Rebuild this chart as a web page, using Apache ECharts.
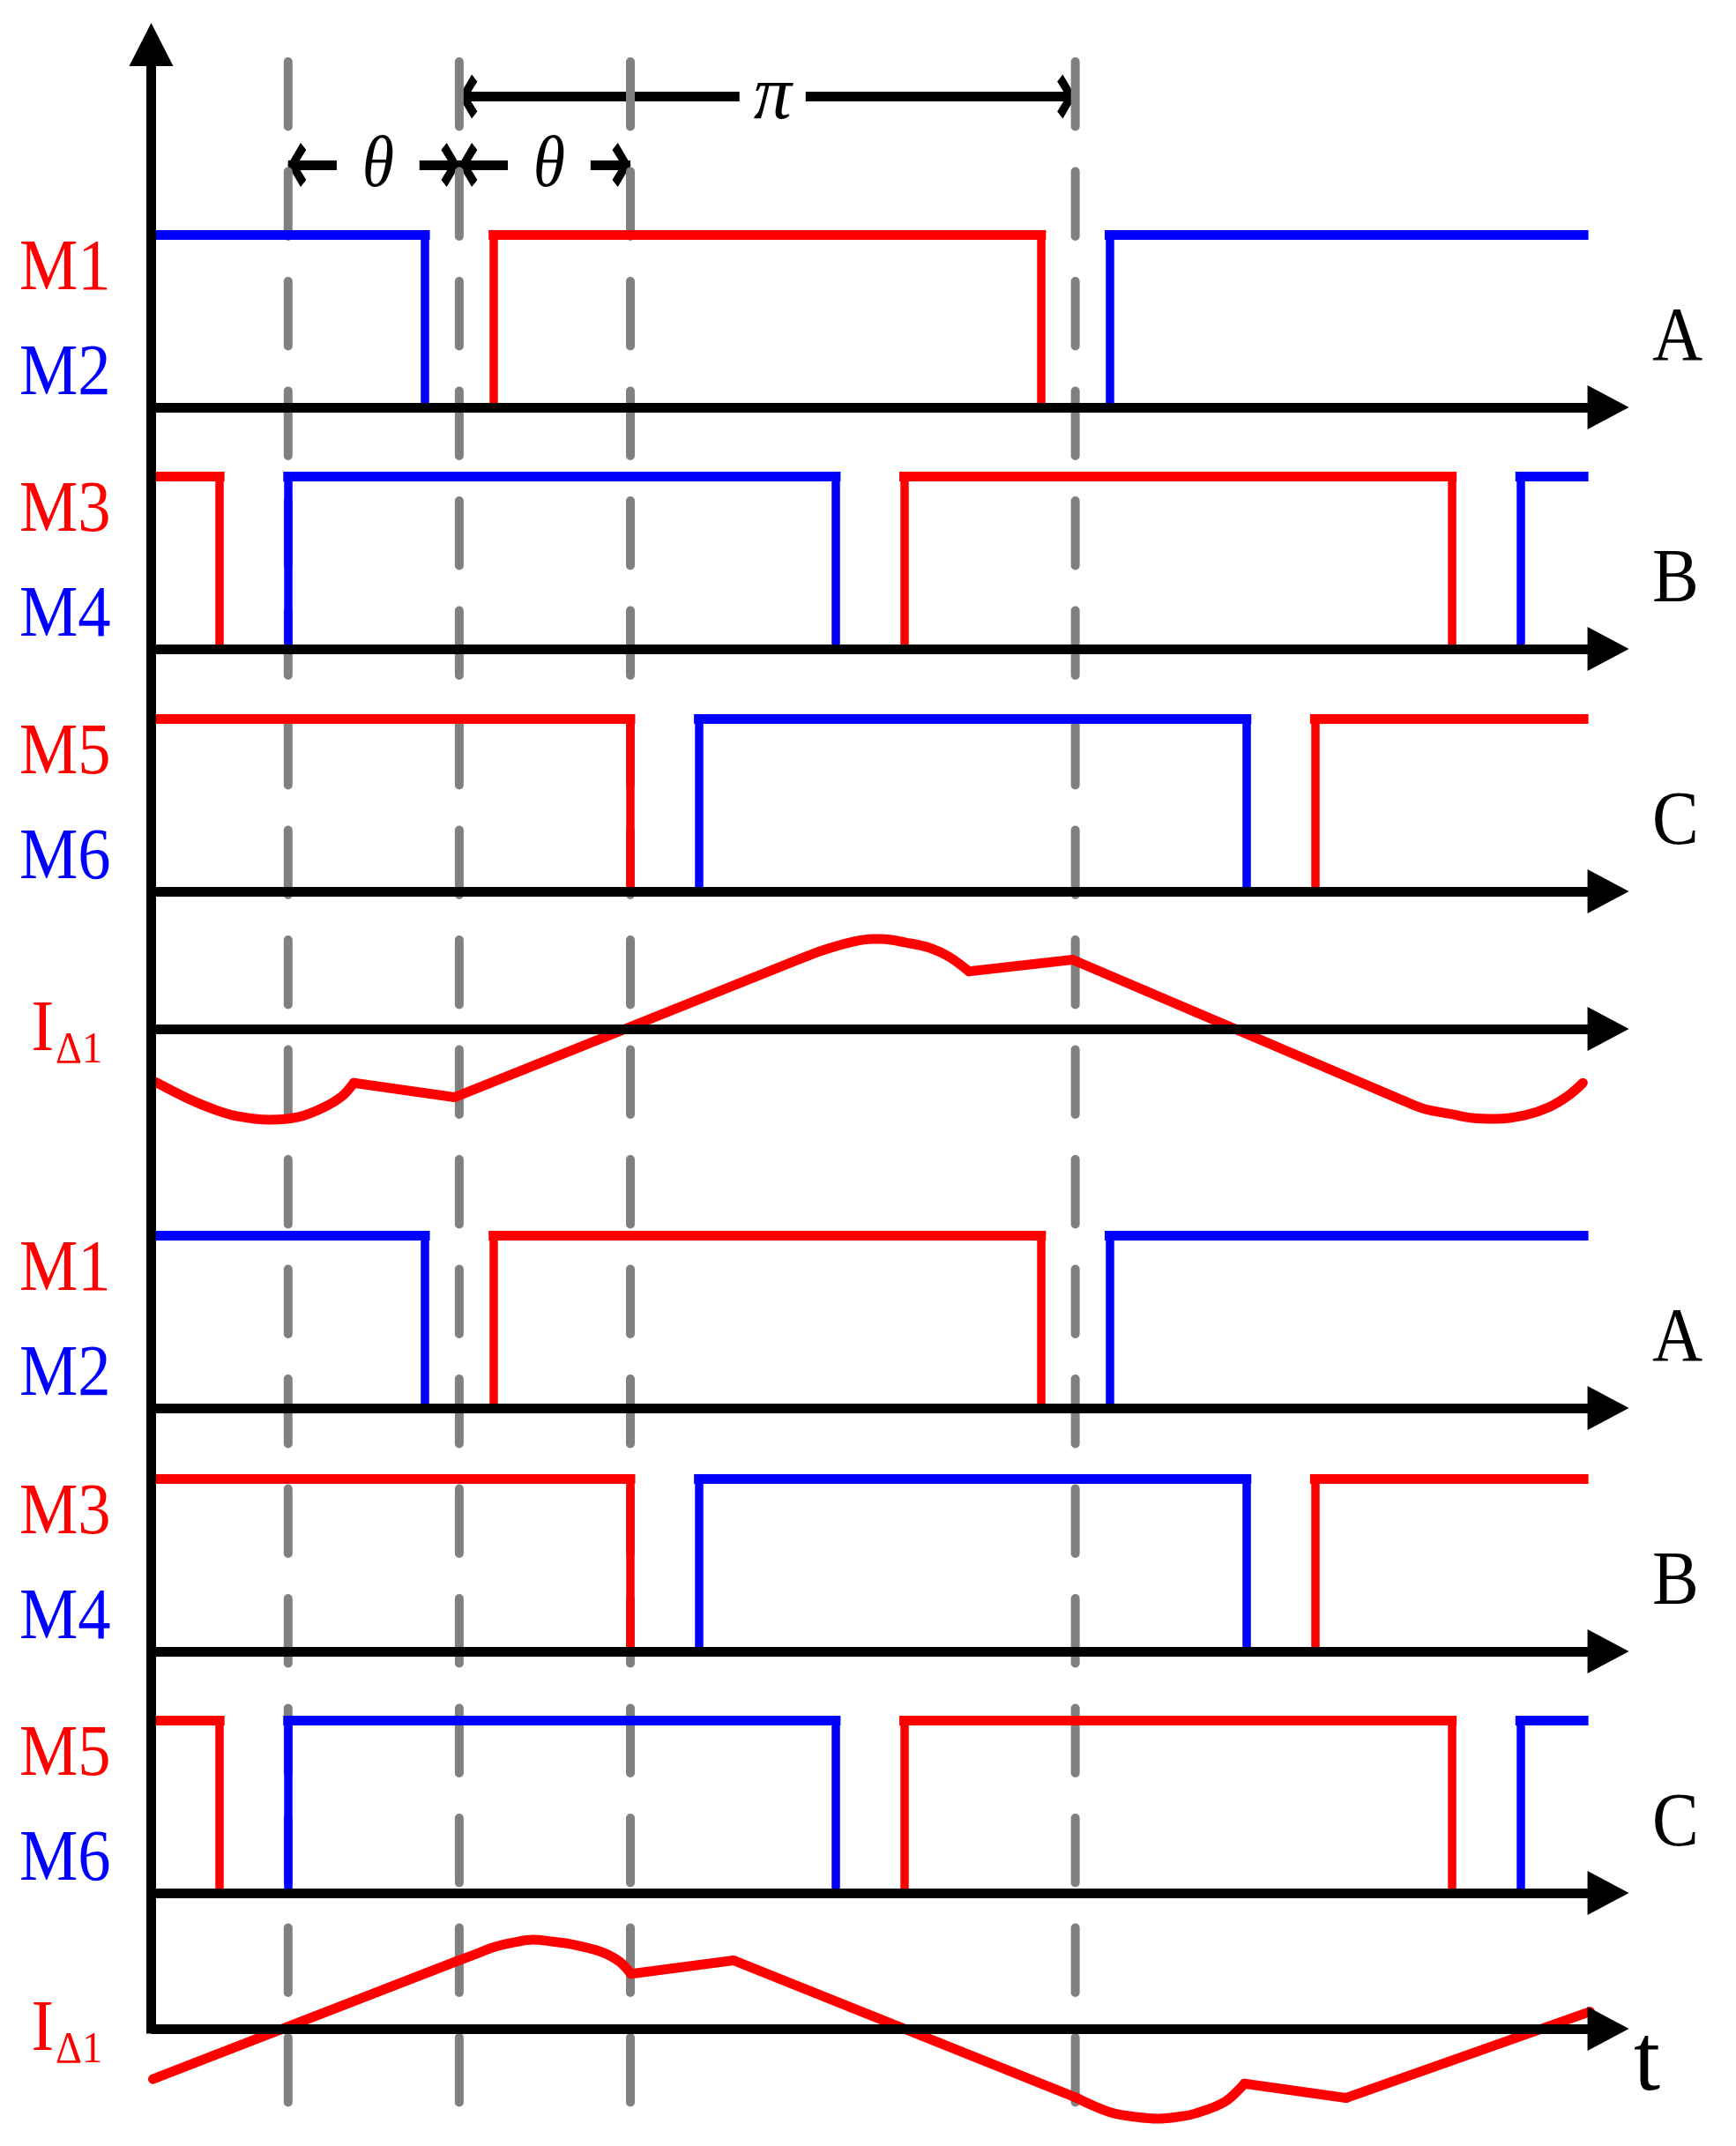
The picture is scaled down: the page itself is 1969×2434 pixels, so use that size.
<!DOCTYPE html>
<html>
<head>
<meta charset="utf-8">
<script src="https://cdn.jsdelivr.net/npm/echarts@6.0.0/dist/echarts.min.js"></script>
<style>
html,body{margin:0;padding:0;background:#ffffff;}
#chart{width:1969px;height:2434px;}
</style>
</head>
<body>
<div id="chart"></div>
<script>
// ================= DATA (time in degrees of one switching period) =================
const tEnd = 418.5;                       // end of the drawn gate signals
const guideAngles = [40, 90, 140, 270];   // dashed guide lines
const piSpan = [90, 270];                 // "π" dimension
const thetaSpans = [[40, 90], [90, 140]]; // "θ" dimensions

// upper group: conduction intervals [start, end]
const g1A_M1 = [[100, 260]];
const g1A_M2 = [[0, 80], [280, tEnd]];
const g1B_M3 = [[0, 20], [220, 380]];
const g1B_M4 = [[40, 200], [400, tEnd]];
const g1C_M5 = [[0, 140], [340, tEnd]];
const g1C_M6 = [[160, 320]];
// upper I_Δ1 current (normalised to peak)
const g1_iDelta1 = [
  [1.2,-0.59],[11,-0.78],[18,-0.89],[25,-0.97],[34.7,-1.01],[43,-0.98],[50,-0.88],[55.7,-0.75],[59.2,-0.60],
  [88.6,-0.76],[189.7,0.78],[196.7,0.88],[204,0.96],[210.7,1.0],[213.5,1.0],[220.5,0.96],[227.6,0.90],
  [233.2,0.80],[238.9,0.64],[269.2,0.77],[366,-0.80],[372,-0.89],[380.2,-0.95],[386,-0.99],[392.9,-1.0],
  [401.4,-0.96],[408.4,-0.87],[414.1,-0.74],[418.3,-0.60]
];
const g1_iCorners = [59.2, 88.6, 189.7, 238.9, 269.2, 366];

// lower group
const g2A_M1 = [[100, 260]];
const g2A_M2 = [[0, 80], [280, tEnd]];
const g2B_M3 = [[0, 140], [340, tEnd]];
const g2B_M4 = [[160, 320]];
const g2C_M5 = [[0, 20], [220, 380]];
const g2C_M6 = [[40, 200], [400, tEnd]];
const g2_iDelta1 = [
  [0.5,-0.56],[89.2,0.75],[94.8,0.83],[100.3,0.91],[105.9,0.96],[111.5,0.99],[117.1,0.97],[122.7,0.94],
  [131.1,0.86],[136.7,0.75],[140.2,0.61],[170.1,0.76],[269.9,-0.76],[275.5,-0.86],[281.2,-0.94],[287.5,-0.98],
  [294,-1.0],[300,-0.98],[305.3,-0.94],[313.8,-0.81],[319.4,-0.61],[349.1,-0.77],[420.4,0.19]
];
const g2_iCorners = [89.2, 140.2, 170.1, 269.9, 319.4, 349.1];

const upperLabels = ['M1', 'M3', 'M5', 'M1', 'M3', 'M5'];
const lowerLabels = ['M2', 'M4', 'M6', 'M2', 'M4', 'M6'];
const legLabels = ['A', 'B', 'C', 'A', 'B', 'C'];

// ================= LAYOUT =================
const W = 1969, H = 2434;
const X0 = 171.5, PX_PER_DEG = 3.882, X_MAX = 425.7;
const GRID_W = X_MAX * PX_PER_DEG;
const SW_H = 196, CUR_AMP = 102;
const RED = '#ff0000', BLUE = '#0000ff', GRAY = '#808080', BLACK = '#000000';
const FONT = '"Liberation Serif", "Times New Roman", serif';
const DASH_TOP = 70, DASH_BOTTOM = 2386, PI_Y = 109.5, THETA_Y = 187;
const SPINE_TOP = 50.5;

const panels = [
  { kind: 'sw', axisY: 462,  red: g1A_M1, blue: g1A_M2 },
  { kind: 'sw', axisY: 736,  red: g1B_M3, blue: g1B_M4 },
  { kind: 'sw', axisY: 1011, red: g1C_M5, blue: g1C_M6 },
  { kind: 'cur', axisY: 1167, data: g1_iDelta1, corners: g1_iCorners },
  { kind: 'sw', axisY: 1597, red: g2A_M1, blue: g2A_M2 },
  { kind: 'sw', axisY: 1873, red: g2B_M3, blue: g2B_M4 },
  { kind: 'sw', axisY: 2147, red: g2C_M5, blue: g2C_M6 },
  { kind: 'cur', axisY: 2301, data: g2_iDelta1, corners: g2_iCorners }
];

const grids = [], xAxes = [], yAxes = [], series = [], graphics = [];

function addGrid(top, height, yMin, yMax, opts) {
  opts = opts || {};
  const idx = grids.length;
  grids.push({ left: X0, top: top, width: GRID_W, height: height, containLabel: false, outerBoundsMode: 'none', show: false });
  xAxes.push({
    type: 'value', gridIndex: idx, min: 0, max: X_MAX, show: !!opts.showX, z: 10,
    axisLine: { show: true, onZero: true, symbol: ['none', 'triangle'], symbolSize: [50, 47],
      lineStyle: { color: BLACK, width: 11, cap: 'butt' } },
    axisTick: { show: false }, axisLabel: { show: false }, splitLine: { show: false }
  });
  yAxes.push({
    type: 'value', gridIndex: idx, min: yMin, max: yMax, show: !!opts.showY, inverse: !!opts.inverse, z: 10,
    axisLine: { show: true, onZero: false, symbol: ['none', 'triangle'], symbolSize: [50, 49],
      lineStyle: { color: BLACK, width: 11, cap: 'butt' } },
    axisTick: { show: false }, axisLabel: { show: false }, splitLine: { show: false }
  });
  return idx;
}

function addText(str, x, baseline, F, color, o) {
  o = o || {};
  const style = {
    text: str, x: 0, y: 0, fill: color,
    font: (o.italic ? 'italic ' : '') + F + 'px ' + FONT,
    align: o.align || 'left', textAlign: o.align || 'left',
    verticalAlign: 'middle', textVerticalAlign: 'middle'
  };
  if (o.bg) { style.backgroundColor = o.bg; style.padding = o.padding; }
  graphics.push({ type: 'text', x: x, y: baseline - 0.3375 * F, scaleX: o.sx || 1, z: 100, silent: true, style: style });
}

// split a waveform at its sharp corners; curved runs are smoothed, straight runs are not
function splitRuns(data, corners) {
  const runs = [];
  let cur = [];
  data.forEach(function (pt) {
    cur.push(pt);
    if (corners.indexOf(pt[0]) >= 0) { runs.push(cur); cur = [pt]; }
  });
  if (cur.length > 1) runs.push(cur);
  return runs;
}

// spine (vertical axis with arrow)
addGrid(SPINE_TOP, panels[7].axisY + 5.5 - SPINE_TOP, 0, 1, { showY: true });

// panels
let swCount = 0;
panels.forEach(function (p) {
  if (p.kind === 'sw') {
    const g = addGrid(p.axisY - SW_H, SW_H, 0, 1, { showX: true });
    const tops = [], edges = [];
    [[p.red, RED], [p.blue, BLUE]].forEach(function (pair) {
      pair[0].forEach(function (iv) {
        tops.push({ coords: [[iv[0], 1], [iv[1], 1]], lineStyle: { color: pair[1] } });
        if (iv[0] > 0) edges.push({ coords: [[iv[0], 0], [iv[0], 1]], lineStyle: { color: pair[1] } });
        if (iv[1] < tEnd) edges.push({ coords: [[iv[1], 0], [iv[1], 1]], lineStyle: { color: pair[1] } });
      });
    });
    series.push({ type: 'lines', coordinateSystem: 'cartesian2d', xAxisIndex: g, yAxisIndex: g, z: 6, silent: true, clip: false,
      lineStyle: { width: 9.5, cap: 'butt', opacity: 1 }, data: edges });
    series.push({ type: 'lines', coordinateSystem: 'cartesian2d', xAxisIndex: g, yAxisIndex: g, z: 6, silent: true, clip: false,
      lineStyle: { width: 11, cap: 'square', opacity: 1 }, data: tops });
    addText(upperLabels[swCount], 22, p.axisY - 128, 82, RED, { sx: 0.91 });
    addText(lowerLabels[swCount], 22, p.axisY - 9, 82, BLUE, { sx: 0.91 });
    addText(legLabels[swCount], 1874, p.axisY - 48, 86, BLACK, { sx: 0.92 });
    swCount++;
  } else {
    const g = addGrid(p.axisY - CUR_AMP, 2 * CUR_AMP, -1, 1, { showX: true });
    splitRuns(p.data, p.corners).forEach(function (run) {
      series.push({ type: 'line', xAxisIndex: g, yAxisIndex: g, data: run, showSymbol: false, symbol: 'none', z: 6,
        smooth: run.length > 2 ? 0.35 : false,
        silent: true, clip: false, lineStyle: { color: RED, width: 11, join: 'round', cap: 'round' } });
    });
    addText('I', 35.5, p.axisY + 30, 83, RED, { sx: 0.93 });
    addText('\u03941', 63, p.axisY + 41.5, 50, RED, { sx: 0.93 });
  }
});

// guide / annotation grid (pixel-like y scale)
const gg = addGrid(0, H, 0, H, { inverse: true });
guideAngles.forEach(function (a) {
  series.push({ type: 'line', xAxisIndex: gg, yAxisIndex: gg, data: [[a, DASH_TOP], [a, DASH_BOTTOM]],
    symbol: 'none', showSymbol: false, z: 5, silent: true, clip: false,
    lineStyle: { color: GRAY, width: 10, type: [73.5, 51], cap: 'round' } });
});

const CHEV = 'path://M50,0 L100,70 L84,100 L50,50 L16,100 L0,70 Z';
function endPt(x, y) { return { coord: [x, y], symbol: CHEV, symbolSize: [50, 21], symbolOffset: [0, 10] }; }
const mlData = [[endPt(piSpan[0], PI_Y), endPt(piSpan[1], PI_Y)]];
thetaSpans.forEach(function (s) { mlData.push([endPt(s[0], THETA_Y), endPt(s[1], THETA_Y)]); });
series.push({ type: 'line', xAxisIndex: gg, yAxisIndex: gg, data: [], z: 7, silent: true,
  markLine: { silent: true, animation: false, symbol: [CHEV, CHEV], label: { show: false },
    emphasis: { disabled: true },
    lineStyle: { color: BLACK, width: 11, type: 'solid', cap: 'butt', opacity: 1 },
    data: mlData } });

function xPx(deg) { return X0 + deg * PX_PER_DEG; }
addText('\u03c0', xPx((piSpan[0] + piSpan[1]) / 2) + 6, 140, 86, BLACK,
  { italic: true, align: 'center', bg: '#ffffff', padding: [0, 16, 0, 16] });
thetaSpans.forEach(function (s) {
  addText('\u03b8', xPx((s[0] + s[1]) / 2) + 5, 217.5, 82, BLACK,
    { italic: true, align: 'center', sx: 0.9, bg: '#ffffff', padding: [0, 32, 0, 32] });
});
addText('t', 1853, 2378, 108, BLACK, {});

const chart = echarts.init(document.getElementById('chart'), null, { renderer: 'canvas', width: W, height: H });
chart.setOption({
  animation: false,
  backgroundColor: '#ffffff',
  grid: grids, xAxis: xAxes, yAxis: yAxes, series: series, graphic: { elements: graphics }
});
</script>
</body>
</html>
